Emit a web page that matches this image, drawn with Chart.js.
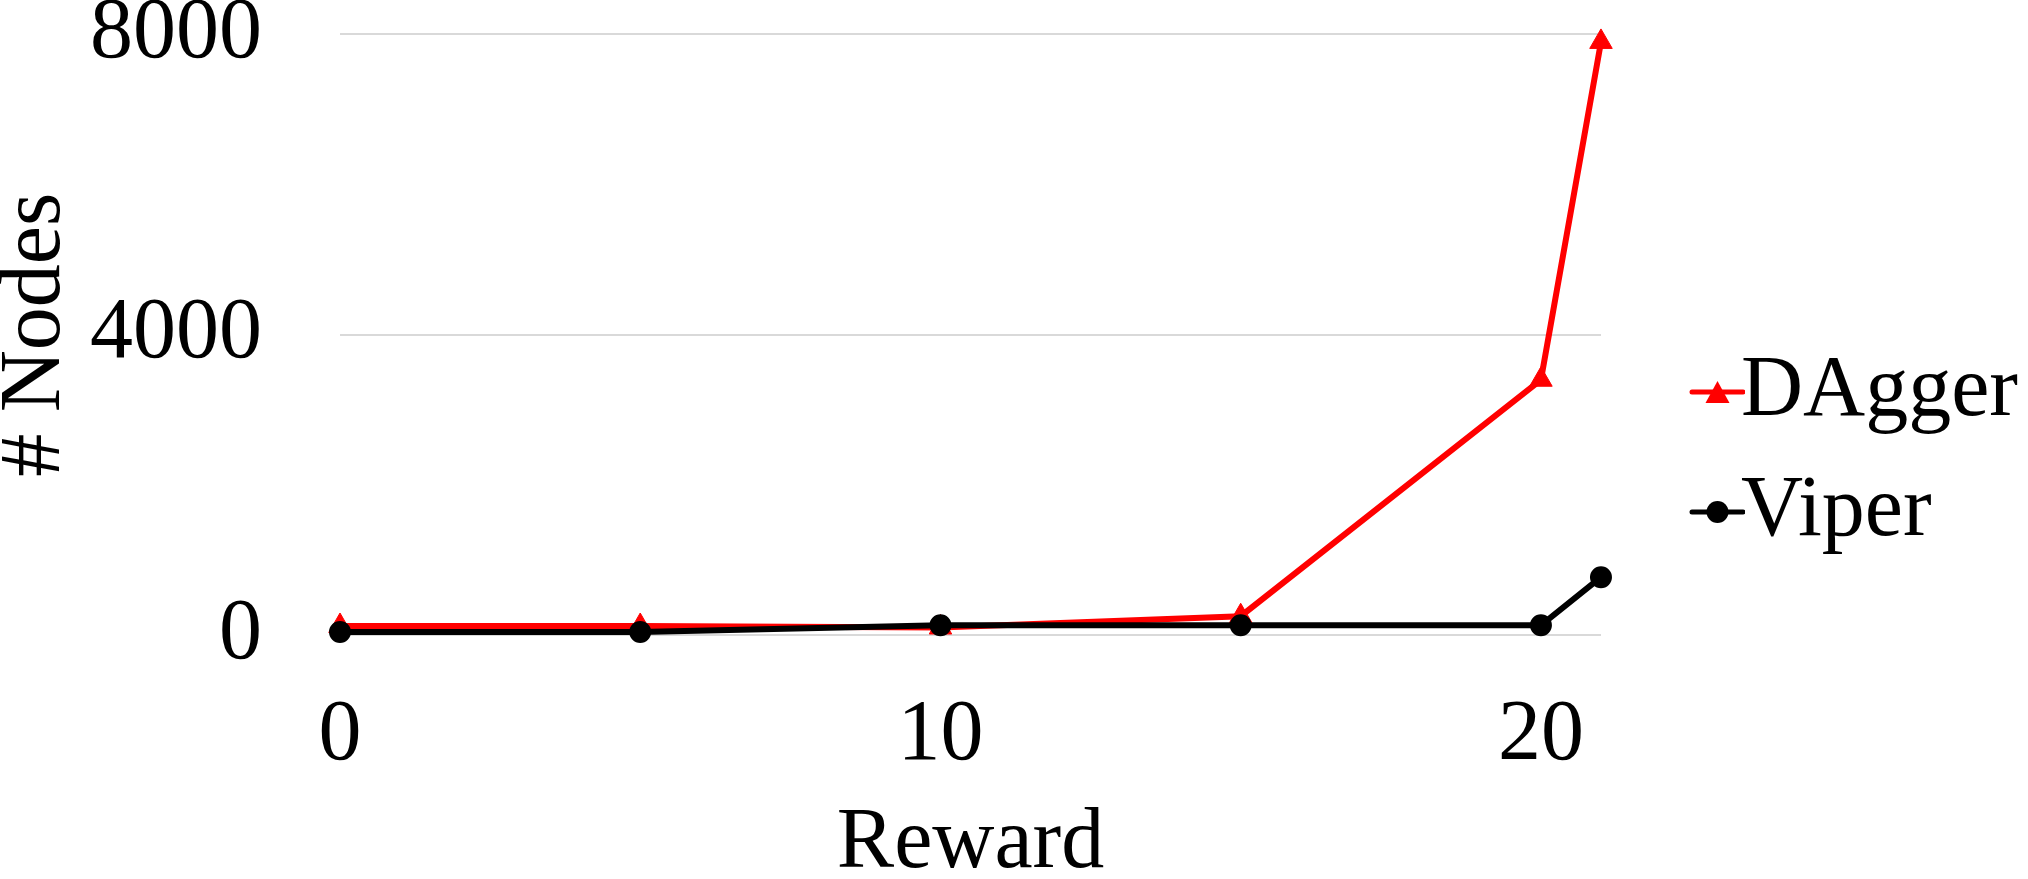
<!DOCTYPE html>
<html>
<head>
<meta charset="utf-8">
<script src="https://cdn.jsdelivr.net/npm/chart.js@4.4.1/dist/chart.umd.min.js"></script>
<style>
  html, body { margin: 0; padding: 0; background: #fff; }
  canvas { display: block; }
</style>
</head>
<body>
<canvas id="chart" width="2028" height="879"></canvas>
<script>
  // values
  const rewards = [0, 5, 10, 15, 20, 21];
  const daggerNodes = [120, 120, 100, 250, 3400, 7900];
  const viperNodes = [40, 40, 130, 130, 130, 770];
  const rewardTicks = [0, 10, 20];
  const nodeTicks = [0, 4000, 8000];

  const serif = 'Liberation Serif';

  // legend swatch: short line with the series marker on it
  function makeIcon(color, shape) {
    const c = document.createElement('canvas');
    c.width = 157;
    c.height = 40;
    const g = c.getContext('2d');
    g.strokeStyle = color;
    g.fillStyle = color;
    g.lineWidth = 5;
    g.lineCap = 'round';
    g.beginPath();
    g.moveTo(104, 20);
    g.lineTo(155, 20);
    g.stroke();
    g.beginPath();
    if (shape === 'triangle') {
      g.moveTo(129.5, 9);
      g.lineTo(141.5, 31);
      g.lineTo(117.5, 31);
      g.closePath();
    } else {
      g.arc(129.5, 20, 11, 0, Math.PI * 2);
    }
    g.fill();
    return c;
  }
  const legendIcons = [makeIcon('#ff0000', 'triangle'), makeIcon('#000000', 'circle')];

  new Chart(document.getElementById('chart'), {
    type: 'line',
    data: {
      datasets: [{
        label: 'DAgger',
        data: rewards.map((r, i) => ({ x: r, y: daggerNodes[i] })),
        borderColor: '#ff0000',
        backgroundColor: '#ff0000',
        borderWidth: 6,
        pointStyle: 'triangle',
        pointRadius: 13,
        pointBorderWidth: 1,
        clip: false,
        order: 1
      }, {
        label: 'Viper',
        data: rewards.map((r, i) => ({ x: r, y: viperNodes[i] })),
        borderColor: '#000000',
        backgroundColor: '#000000',
        borderWidth: 6,
        pointStyle: 'circle',
        pointRadius: 10,
        pointBorderWidth: 2,
        clip: false,
        order: 0
      }]
    },
    options: {
      responsive: false,
      animation: false,
      devicePixelRatio: 1,
      layout: { padding: { top: 25 } },
      plugins: {
        tooltip: { enabled: false },
        legend: {
          position: 'right',
          labels: {
            usePointStyle: true,
            pointStyleWidth: 63,
            padding: 34,
            color: '#000',
            font: { family: serif, size: 86 },
            sort: (a, b) => a.datasetIndex - b.datasetIndex,
            generateLabels: chart => Chart.defaults.plugins.legend.labels.generateLabels(chart)
              .map(item => ({ ...item, pointStyle: legendIcons[item.datasetIndex] }))
          }
        }
      },
      scales: {
        x: {
          type: 'linear',
          min: 0,
          max: 21,
          afterBuildTicks: s => { s.ticks = rewardTicks.map(v => ({ value: v })); },
          afterFit: s => { s.height = 244; },
          grid: { display: false, drawTicks: false },
          border: { display: false },
          ticks: {
            padding: 50,
            color: '#000',
            maxRotation: 0,
            callback: v => String(v),
            font: { family: serif, size: 86, lineHeight: 1.2 }
          },
          title: {
            display: true,
            text: 'Reward',
            color: '#000',
            padding: 0,
            font: { family: serif, size: 86, lineHeight: 0.8 }
          }
        },
        y: {
          min: 0,
          max: 8000,
          afterBuildTicks: s => { s.ticks = nodeTicks.map(v => ({ value: v })); },
          afterFit: s => { s.width = 340; },
          grid: {
            color: '#d9d9d9',
            lineWidth: 2,
            drawTicks: true,
            tickLength: 78,
            tickColor: 'rgba(0,0,0,0)'
          },
          border: { display: false },
          ticks: {
            padding: 0,
            color: '#000',
            callback: v => String(v),
            font: { family: serif, size: 86, lineHeight: 0.8 }
          },
          title: {
            display: true,
            text: '# Nodes',
            color: '#000',
            padding: 0,
            font: { family: serif, size: 86, lineHeight: 0.84 }
          }
        }
      }
    }
  });
</script>
</body>
</html>
